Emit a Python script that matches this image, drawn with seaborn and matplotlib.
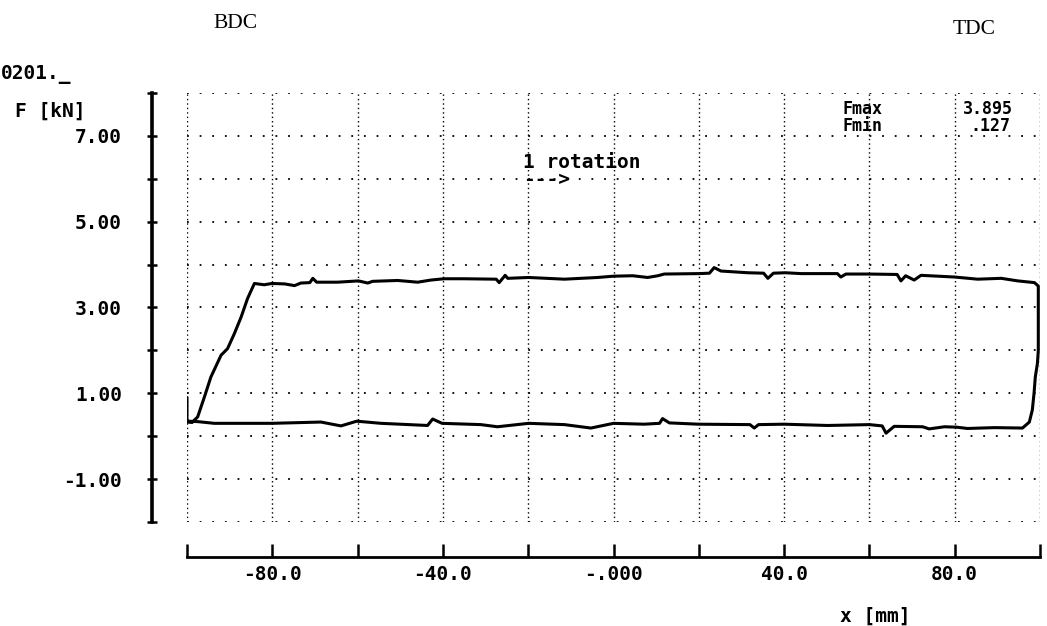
import numpy as np
import matplotlib
matplotlib.use("Agg")
import matplotlib.pyplot as plt
import seaborn as sns

# ---- data (force-displacement loop) ----
x_mm = [-100.0, -100.0, -98.8, -97.5, -95.9, -94.4, -92.0, -90.5, -88.9, -87.3, -85.8, -84.2,
        -81.9, -80.1, -77.1, -74.8, -73.3, -71.2, -70.5, -69.6, -64.7, -59.8, -57.6, -56.5,
        -50.6, -45.9, -42.8, -39.7, -35.0, -27.5, -26.8, -25.4, -24.8, -19.9, -11.5, -3.7,
        0.0, 4.5, 8.0, 10.4, 11.9, 20.0, 22.5, 23.6, 25.2, 31.5, 35.2, 36.2, 37.5, 40.3,
        44.0, 52.5, 53.3, 54.5, 60.0, 66.5, 67.4, 68.5, 70.5, 72.1, 80.0, 85.4, 90.9, 94.8,
        98.7, 99.6,
        99.6, 99.4, 98.9, 98.6, 98.2, 97.5, 95.9,
        89.3, 83.0, 80.5, 77.6, 74.0, 72.5, 65.8, 63.9, 63.0, 60.0, 50.2, 40.0, 34.0, 33.0,
        32.0, 19.9, 13.1, 11.5, 10.8, 7.2, 0.0, -5.3, -11.5, -19.9, -27.2, -31.1, -40.2,
        -42.4, -43.6, -54.5, -60.2, -63.9, -68.6, -80.1, -93.6, -97.5, -99.8]
f_kN = [0.90, 0.33, 0.32, 0.45, 0.92, 1.38, 1.89, 2.04, 2.39, 2.78, 3.21, 3.56,
        3.53, 3.56, 3.55, 3.51, 3.57, 3.58, 3.68, 3.59, 3.59, 3.62, 3.57, 3.61,
        3.63, 3.59, 3.64, 3.67, 3.67, 3.66, 3.58, 3.75, 3.68, 3.70, 3.66, 3.70,
        3.73, 3.74, 3.70, 3.74, 3.78, 3.79, 3.80, 3.93, 3.85, 3.81, 3.80, 3.68, 3.80, 3.81,
        3.79, 3.79, 3.71, 3.78, 3.78, 3.77, 3.62, 3.74, 3.64, 3.75, 3.71, 3.66, 3.68, 3.62,
        3.58, 3.50,
        2.00, 1.70, 1.38, 1.00, 0.61, 0.33, 0.19,
        0.20, 0.18, 0.21, 0.22, 0.17, 0.22, 0.23, 0.07, 0.24, 0.27, 0.25, 0.28, 0.27, 0.19,
        0.27, 0.28, 0.31, 0.41, 0.30, 0.28, 0.30, 0.19, 0.27, 0.30, 0.22, 0.27, 0.30,
        0.40, 0.25, 0.30, 0.35, 0.24, 0.33, 0.30, 0.30, 0.34, 0.35]

x_ticks = [-100, -80, -60, -40, -20, 0, 20, 40, 60, 80, 100]
x_tick_labels = ["", "-80.0", "", "-40.0", "", "-.000", "", "40.0", "", "80.0", ""]
y_ticks = [-2, -1, 0, 1, 2, 3, 4, 5, 6, 7, 8]
y_tick_labels = ["", "-1.00", "", "1.00", "", "3.00", "", "5.00", "", "7.00", ""]

file_label = "0201._"
y_title = "F [kN]"
x_title = "x [mm]"
stat_names = ["Fmax", "Fmin"]
stat_values = ["3.895", ".127"]
note_text = "1 rotation"
note_arrow = "--->"
left_mark = "BDC"
right_mark = "TDC"

# ---- styling ----
sns.set_style("white")
plt.rcParams["font.family"] = ["DejaVu Sans Mono", "DejaVu Sans"]
plt.rcParams["font.weight"] = "bold"
plt.rcParams["xtick.labelsize"] = 14
plt.rcParams["ytick.labelsize"] = 14
MONO = dict(family="DejaVu Sans Mono", weight="bold", size=14, color="black")
SMALL = dict(family="DejaVu Sans Mono", weight="bold", size=12, color="black")
SERIF = dict(family="Liberation Serif", weight="normal", size=15.5, color="black")

W, H = 1047, 626
fig = plt.figure(figsize=(W / 100, H / 100), dpi=100)
fig.patch.set_facecolor("white")

def fx(px):
    return px / W

def fy(py):
    return 1 - py / H

ax = fig.add_axes([fx(187), fy(522), (1040 - 187) / W, (522 - 93) / H])
ax.set_facecolor("white")

sns.lineplot(x=x_mm, y=f_kN, sort=False, estimator=None, color="black",
             linewidth=2.2, ax=ax, legend=False)

ax.set_xlim(-100, 100)
ax.set_ylim(-2, 8)
ax.set_xlabel("")
ax.set_ylabel("")

ax.xaxis.grid(True, linestyle=(0, (1, 2.2)), color="black", linewidth=1.0)
ax.yaxis.grid(True, linestyle=(0, (1, 6)), color="black", linewidth=1.3)
ax.set_axisbelow(True)

for s in ("top", "right"):
    ax.spines[s].set_visible(False)
ax.spines["left"].set_position(("outward", 35 * 0.72))
ax.spines["bottom"].set_position(("outward", 34.5 * 0.72))
ax.spines["left"].set_linewidth(2.6)
ax.spines["bottom"].set_linewidth(2.0)
ax.spines["left"].set_color("black")
ax.spines["bottom"].set_color("black")

ax.tick_params(axis="x", which="major", bottom=True, top=False, direction="in",
               length=9.4, width=1.8, pad=6, colors="black",
               labelsize=14, labelfontfamily="DejaVu Sans Mono")
ax.tick_params(axis="y", which="major", left=True, right=False, direction="inout",
               length=7.2, width=1.8, pad=18, colors="black",
               labelsize=14, labelfontfamily="DejaVu Sans Mono")

ax.set_xticks(x_ticks)
ax.set_xticklabels(x_tick_labels)
ax.set_yticks(y_ticks)
ax.set_yticklabels(y_tick_labels)
for lab in ax.get_xticklabels() + ax.get_yticklabels():
    lab.set_fontweight("bold")
    lab.set_fontsize(14)
    lab.set_fontfamily("DejaVu Sans Mono")

# ---- texts ----
fig.text(fx(1), fy(74), file_label, ha="left", va="center", **MONO)
fig.text(fx(15), fy(111), y_title, ha="left", va="center", **MONO)
fig.text(fx(840), fy(616), x_title, ha="left", va="center", **MONO)
fig.text(fx(842), fy(109), stat_names[0], ha="left", va="center", **SMALL)
fig.text(fx(842), fy(126), stat_names[1], ha="left", va="center", **SMALL)
fig.text(fx(963), fy(109), stat_values[0], ha="left", va="center", **SMALL)
fig.text(fx(970), fy(126), stat_values[1], ha="left", va="center", **SMALL)
fig.text(fx(523), fy(163), note_text, ha="left", va="center", **MONO)
fig.text(fx(523), fy(180), note_arrow, ha="left", va="center", **MONO)
fig.text(fx(213), fy(24), left_mark, ha="left", va="center", **SERIF)
fig.text(fx(953), fy(30), right_mark, ha="left", va="center", **SERIF)

fig.savefig("out.png", dpi=100, facecolor="white")
